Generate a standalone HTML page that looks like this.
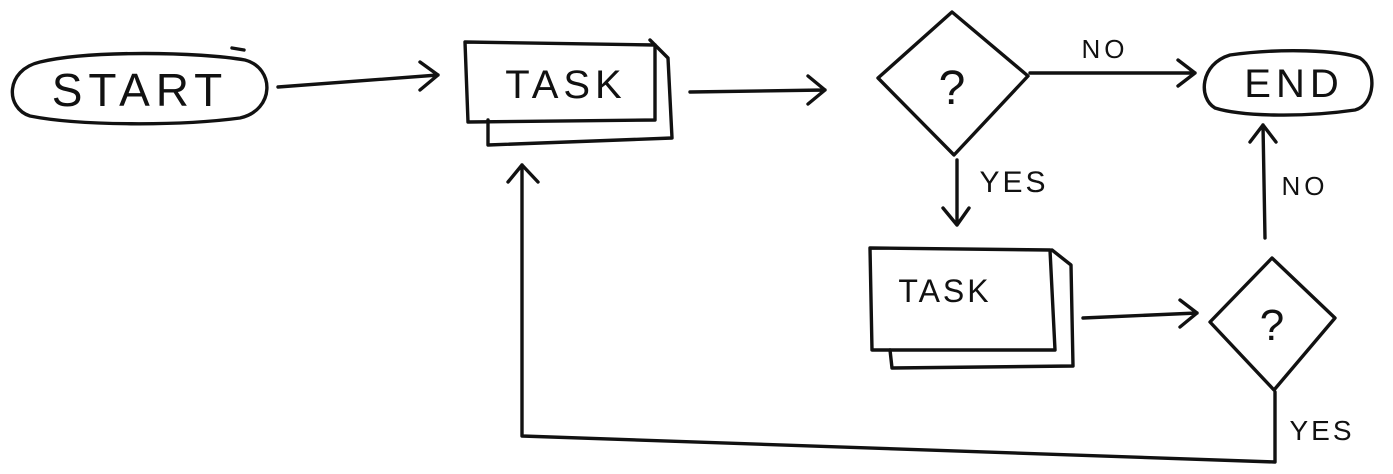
<!DOCTYPE html>
<html><head><meta charset="utf-8"><style>
html,body{margin:0;padding:0;background:#fff;}
svg{display:block;}
text{font-family:"Liberation Sans",sans-serif;fill:#111;}
</style></head><body>
<svg width="1393" height="474" viewBox="0 0 1393 474" xmlns="http://www.w3.org/2000/svg">
<g fill="none" stroke="#111" stroke-width="3.4" stroke-linecap="round" stroke-linejoin="round">
<!-- START -->
<path d="M40 62 C90 50 200 52 245 60 C275 68 275 110 240 118 C180 126 80 126 30 116 C5 108 5 70 40 62 Z M232 48 L244 50"/>
<path d="M278 87 L438 75 M420 62 L438 75 L420 90"/>
<!-- TASK 1 -->
<path d="M488 120 L488 145 L672 138 L668 58 L650 40"/>
<path d="M465 42 L655 45 L655 120 L468 122 Z"/>
<path d="M690 92 L825 90 M808 76 L825 90 L808 104"/>
<!-- diamond 1 -->
<path d="M952 12 L1028 76 L954 155 L878 78 Z"/>
<path d="M1030 73 L1195 73 M1178 60 L1195 73 L1178 86"/>
<!-- END -->
<path d="M1230 55 C1280 48 1340 50 1360 58 C1378 70 1375 105 1355 110 C1300 118 1240 116 1215 108 C1198 98 1200 64 1230 55 Z"/>
<!-- YES down -->
<path d="M957 160 L957 225 M943 208 L957 225 L969 208"/>
<!-- TASK 2 -->
<path d="M890 350 L892 368 L1073 366 L1071 265 L1052 250"/>
<path d="M870 248 L1050 250 L1055 350 L872 350 Z"/>
<path d="M1083 318 L1197 313 M1180 300 L1197 313 L1180 327"/>
<!-- diamond 2 -->
<path d="M1272 258 L1335 318 L1274 390 L1210 322 Z"/>
<path d="M1265 238 L1263 125 M1250 142 L1263 125 L1276 142"/>
<!-- loop back -->
<path d="M1275 392 L1275 462 L522 436 L522 165 M508 182 L522 165 L538 182"/>
</g>
<text x="140" y="106" font-size="46" text-anchor="middle" letter-spacing="6">START</text>
<text x="566" y="98" font-size="40" text-anchor="middle" letter-spacing="5">TASK</text>
<text x="952" y="104" font-size="48" text-anchor="middle">?</text>
<text x="1105" y="58" font-size="26" text-anchor="middle" letter-spacing="4">NO</text>
<text x="1294" y="97" font-size="40" text-anchor="middle" letter-spacing="5">END</text>
<text x="1014" y="192" font-size="30" text-anchor="middle" letter-spacing="3">YES</text>
<text x="945" y="302" font-size="32" text-anchor="middle" letter-spacing="3">TASK</text>
<text x="1272" y="340" font-size="44" text-anchor="middle">?</text>
<text x="1305" y="195" font-size="26" text-anchor="middle" letter-spacing="4">NO</text>
<text x="1322" y="440" font-size="28" text-anchor="middle" letter-spacing="3">YES</text>
</svg>
</body></html>
